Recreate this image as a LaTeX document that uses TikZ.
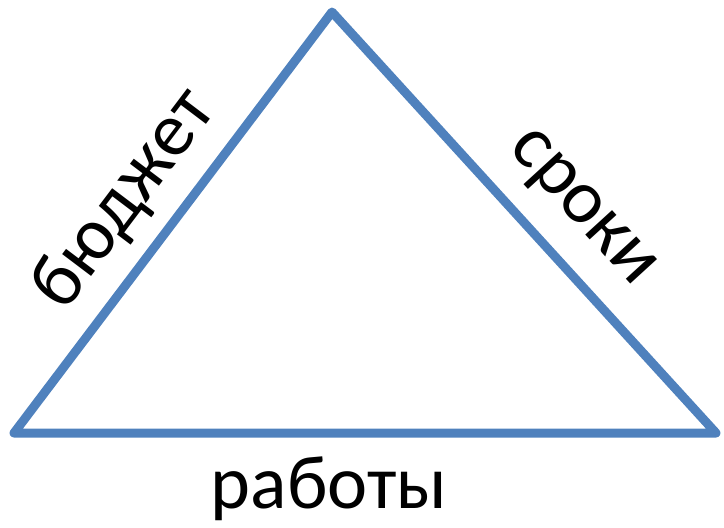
\documentclass[tikz,border=0pt]{standalone}
\usepackage{fontspec}
\setmainfont{Carlito}
\usetikzlibrary{positioning}
\definecolor{edgeblue}{RGB}{79,129,189}

\begin{document}
\begin{tikzpicture}[
    x=1pt, y=-1pt,
    triline/.style={draw=edgeblue, line width=9pt, line join=round, line cap=round},
    sidetext/.style={font=\fontsize{76}{80}\selectfont, inner sep=0pt}
]
    \useasboundingbox (0,0) rectangle (724,528);

    % Corners
    \coordinate (left) at (14,433);
    \coordinate (top) at (332,12);
    \coordinate (right) at (716,433);

    % Triangle
    \draw[triline] (left) -- (top) -- (right) -- cycle;

    % Labels
    \node[sidetext, rotate=52.9] (budget) at (125,200) {бюджет};
    \node[sidetext, rotate=-47.6] (terms) at (580,210) {сроки};
    \node[sidetext, anchor=base] (works) at (329,508) {работы};

\end{tikzpicture}
\end{document}
